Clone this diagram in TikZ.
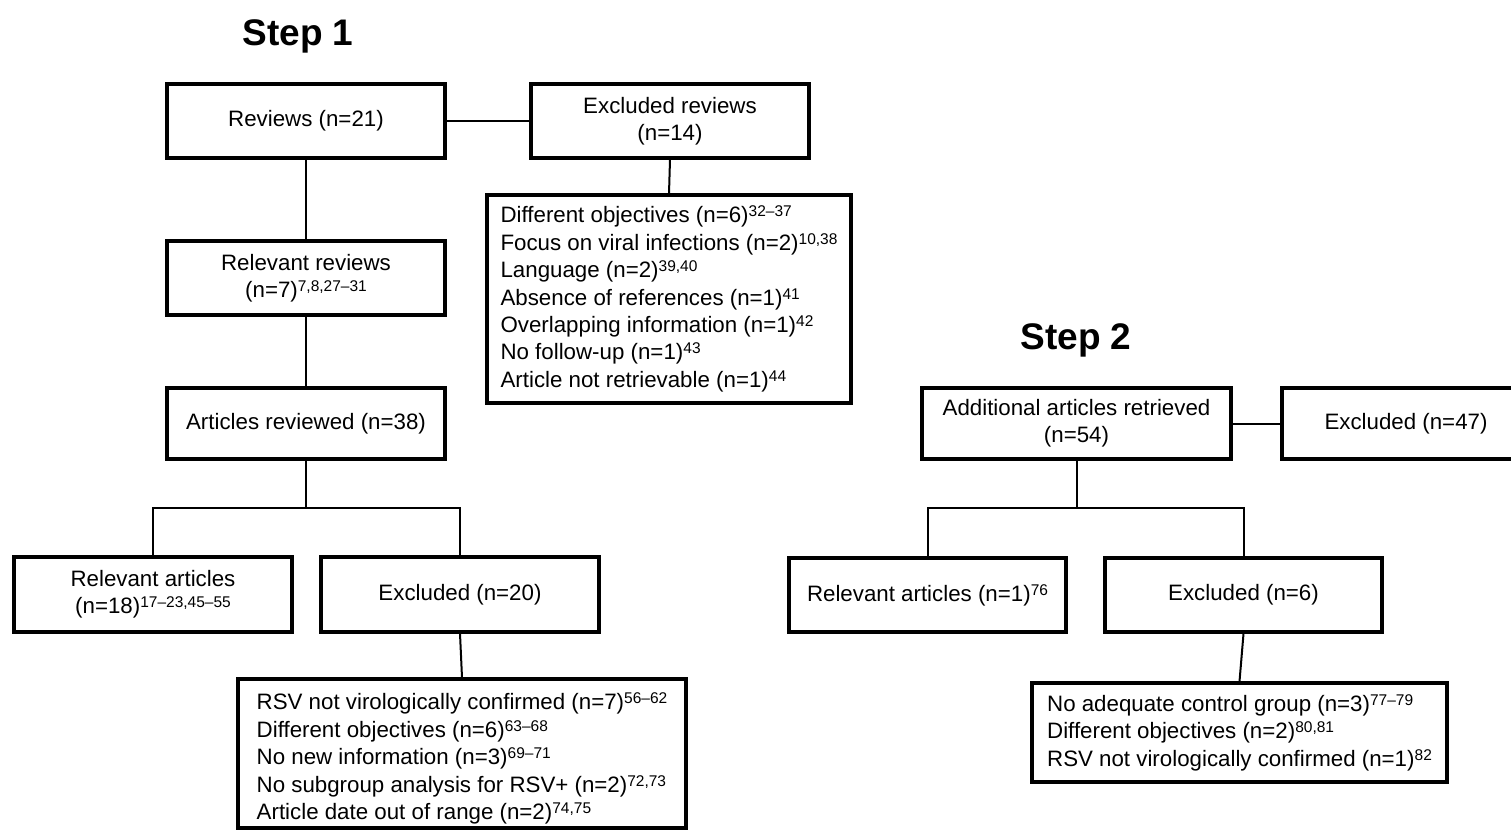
\documentclass[tikz,border=0pt]{standalone}
\usepackage{fontspec}
\setmainfont{Liberation Sans}
\newcommand\rf[1]{\raisebox{6pt}{\fontsize{15.5}{15.5}\selectfont #1}}
\begin{document}
\begin{tikzpicture}[x=1pt,y=-1pt,
  box/.style={draw, line width=3.2pt, inner sep=0pt, align=center,
    font=\fontsize{22.3}{27}\selectfont},
  listbox/.style={draw, line width=3.2pt, inner sep=0pt, align=left,
    font=\fontsize{22.3}{27.4}\selectfont},
  conn/.style={line width=2pt},
  steplbl/.style={anchor=base, inner sep=0pt, font=\fontsize{37}{37}\selectfont\bfseries}]
\useasboundingbox (0,0) rectangle (1511,830);

% ---------- Step 1 ----------
\node[steplbl] (s1) at (298,45) {Step 1};

\node[box, minimum width=278pt, minimum height=74pt] (rev) at (306,121) {Reviews (n=21)};
\node[box, minimum width=278pt, minimum height=74pt] (exrev) at (670,121) {Excluded reviews\\(n=14)};
\node[listbox, minimum width=364pt, minimum height=208pt] (exrevlist) at (669,299) {%
Different objectives (n=6)\rf{32–37}\\
Focus on viral infections (n=2)\rf{10,38}\\
Language (n=2)\rf{39,40}\\
Absence of references (n=1)\rf{41}\\
Overlapping information (n=1)\rf{42}\\
No follow-up (n=1)\rf{43}\\
Article not retrievable (n=1)\rf{44}};

\node[box, minimum width=278pt, minimum height=74pt] (relrev) at (306,278) {Relevant reviews\\(n=7)\rf{7,8,27–31}};
\node[box, minimum width=278pt, minimum height=71pt] (art) at (306,423.5) {Articles reviewed (n=38)};

\node[box, minimum width=278pt, minimum height=75pt] (relart) at (153,594.5) {Relevant articles\\(n=18)\rf{17–23,45–55}};
\node[box, minimum width=278pt, minimum height=75pt] (ex20) at (460,594.5) {Excluded (n=20)};
\node[listbox, minimum width=448pt, minimum height=149pt] (ex20list) at (462,753.5) {%
\rule{0pt}{27pt}RSV not virologically confirmed (n=7)\rf{56–62}\\
Different objectives (n=6)\rf{63–68}\\
No new information (n=3)\rf{69–71}\\
No subgroup analysis for RSV+ (n=2)\rf{72,73}\\
Article date out of range (n=2)\rf{74,75}};

\coordinate (j1) at (306,508);

\draw[conn] (rev) -- (exrev);
\draw[conn] (exrev.south) -- (exrevlist.north);
\draw[conn] (rev) -- (relrev);
\draw[conn] (relrev) -- (art);
\draw[conn] (art.south) -- (j1);
\draw[conn] (relart.north) |- (j1);
\draw[conn] (ex20.north) |- (j1);
\draw[conn] (ex20.south) -- (ex20list.north);

% ---------- Step 2 ----------
\node[steplbl] (s2) at (1076,349) {Step 2};

\node[box, minimum width=309pt, minimum height=71pt] (add) at (1076.5,423.5) {Additional articles retrieved\\(n=54)};
\node[box, minimum width=248pt, minimum height=71pt] (ex47) at (1406,423.5) {Excluded (n=47)};

\node[box, minimum width=277pt, minimum height=74pt] (relart2) at (927.5,595) {Relevant articles (n=1)\rf{76}};
\node[box, minimum width=277pt, minimum height=74pt] (ex6) at (1243.5,595) {Excluded (n=6)};
\node[listbox, minimum width=415pt, minimum height=99pt] (ex6list) at (1239.5,732.5) {%
No adequate control group (n=3)\rf{77–79}\\
Different objectives (n=2)\rf{80,81}\\
RSV not virologically confirmed (n=1)\rf{82}};

\coordinate (j2) at (1076.5,508);

\draw[conn] (add) -- (ex47);
\draw[conn] (add.south) -- (j2);
\draw[conn] (relart2.north) |- (j2);
\draw[conn] (ex6.north) |- (j2);
\draw[conn] (ex6.south) -- (ex6list.north);
\end{tikzpicture}
\end{document}
